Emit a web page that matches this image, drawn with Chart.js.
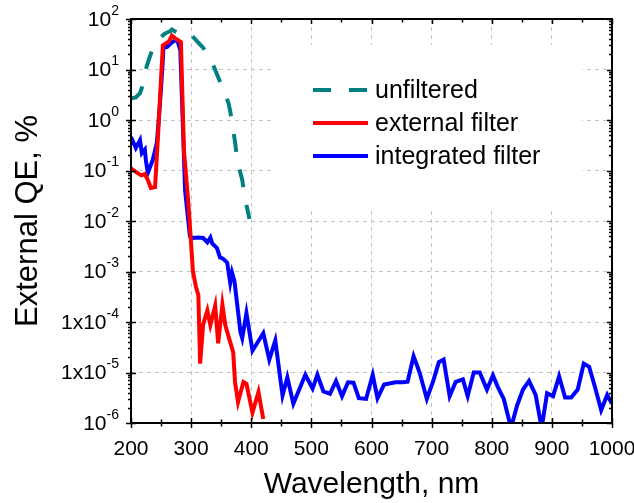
<!DOCTYPE html>
<html>
<head>
<meta charset="utf-8">
<script src="https://cdn.jsdelivr.net/npm/chart.js@4.4.0/dist/chart.umd.min.js"></script>
<style>
  body { margin: 0; background: #fff; }
</style>
</head>
<body>
<canvas id="qeChart" width="634" height="503"></canvas>
<script>
// wavelength (nm) and external QE (%)
var unfWl = [200,208,215,218,225,230,235,240,245,250,255,260,265,268,272,278,285,290,295,300,305,310,315,320,325,330,337,345,350,355,362,365,368,373,377,381,385,390,397];
var unfQE = [2.7,2.8,3.4,4.3,10.5,16,24,30,37,44,50,54,57,62,58,52,54,55,52,48,42,36,31,27,22,17,12,7,5,3.6,2.2,1.5,0.87,0.37,0.15,0.1,0.065,0.027,0.011];

var extWl = [200,208,217,223,228,233,240,245,249,253,258,263,268,273,278,283,288,295,298,303,308,312,315,320,327,332,340,345,352,357,365,370,373,378,387,392,402,412,420];
var extQE = [0.11,0.094,0.08,0.085,0.065,0.045,0.047,0.5,4,30,33,36,47,42,38,35,0.25,0.026,0.008,0.001,5e-4,3.4e-4,1.5e-5,9e-5,1.7e-4,8.7e-5,2.1e-4,3.8e-5,2.2e-4,8.5e-5,4e-5,2.5e-5,6.5e-6,2.6e-6,6.5e-6,6e-6,1.6e-6,4.1e-6,1.2e-6];

var intWl = [200,208,215,218,223,225,228,232,236,240,243,248,252,254,260,265,270,275,278,282,290,298,303,312,320,327,332,335,343,348,353,360,365,368,372,382,385,392,402,420,430,440,452,460,470,490,502,510,520,531,541,551,561,570,579,591,602,610,621,640,652,660,670,680,692,703,712,720,730,740,752,760,770,780,792,802,810,820,832,842,852,862,873,883,892,902,912,922,932,943,953,962,972,982,992,1000];
var intQE = [0.46,0.28,0.4,0.22,0.26,0.15,0.09,0.12,0.16,0.25,0.35,2,10,27,28,32,36,38,35,24,0.04,0.005,0.0046,0.0047,0.0046,0.0038,0.0047,0.0036,0.0029,0.0019,0.0018,0.0015,6e-4,9.5e-4,6.5e-4,6.4e-5,4.8e-5,1.5e-4,2.7e-5,6e-5,1.8e-5,4.3e-5,3.5e-6,8e-6,2.4e-6,9e-6,4.8e-6,9e-6,4.2e-6,3.8e-6,6.8e-6,3.4e-6,6.4e-6,6.3e-6,3.1e-6,3e-6,9e-6,3.1e-6,5.8e-6,6.4e-6,6.4e-6,6.6e-6,2.1e-5,1e-5,3e-6,7e-6,1.6e-5,1.8e-5,3.4e-6,6.5e-6,7.3e-6,3.4e-6,1e-5,1e-5,4.6e-6,8.8e-6,5.2e-6,3e-6,8e-7,2.2e-6,4.6e-6,6.8e-6,3.6e-6,8e-7,3.9e-6,3.4e-6,8.4e-6,3.2e-6,3.2e-6,4.6e-6,1.5e-5,1.3e-5,5e-6,1.8e-6,3.6e-6,2.4e-6];

var seriesNames = ["unfiltered", "external filter", "integrated filter"];
var yDecades = [-6, -5, -4, -3, -2, -1, 0, 1, 2];

var FONT = "'Liberation Sans', Arial, sans-serif";

function toPoints(xs, ys) {
  return xs.map(function (x, i) { return {x: x, y: ys[i]}; });
}
function isDecade(v) {
  var l = Math.log10(v);
  return Math.abs(l - Math.round(l)) < 1e-6;
}

// white legend box, frame with tick marks, superscript y labels
var decorations = {
  id: "decorations",
  beforeDatasetsDraw: function (chart) {
    var ctx = chart.ctx;
    ctx.save();
    ctx.fillStyle = "#fff";
    ctx.fillRect(275, 45, 307, 163);
    ctx.restore();
  },
  afterDatasetsDraw: function (chart) {
    var ctx = chart.ctx;
    ctx.save();
    chart.data.datasets.forEach(function (ds, i) {
      var y = 90 + i * 33;
      ctx.strokeStyle = ds.borderColor;
      ctx.lineWidth = ds.borderWidth;
      ctx.setLineDash(ds.borderDash || []);
      ctx.beginPath();
      ctx.moveTo(313, y);
      ctx.lineTo(368, y);
      ctx.stroke();
      ctx.setLineDash([]);
      ctx.fillStyle = "#000";
      ctx.font = "25px " + FONT;
      ctx.textBaseline = "middle";
      ctx.textAlign = "left";
      ctx.fillText(ds.label, 375, y + 1);
    });
    ctx.restore();
  },
  afterDraw: function (chart) {
    var ctx = chart.ctx, a = chart.chartArea;
    var xs = chart.scales.x, ys = chart.scales.y;
    ctx.save();
    ctx.strokeStyle = "#000";
    ctx.lineWidth = 1.5;
    ctx.beginPath();
    for (var v = 200; v <= 1000; v += 50) {
      var px = Math.round(xs.getPixelForValue(v)) + 0.5;
      var len = v % 100 === 0 ? 5 : 3.5;
      ctx.moveTo(px, a.bottom - len); ctx.lineTo(px, a.bottom + len);
      ctx.moveTo(px, a.top); ctx.lineTo(px, a.top + len);
    }
    for (var d = -6; d <= 2; d++) {
      for (var m = 1; m <= 9; m++) {
        if (d === 2 && m > 1) break;
        var py = Math.round(ys.getPixelForValue(m * Math.pow(10, d))) + 0.5;
        var l2 = m === 1 ? 5 : 3;
        ctx.moveTo(a.left - l2, py); ctx.lineTo(a.left + (m === 1 ? l2 : 0), py);
        ctx.moveTo(a.right, py); ctx.lineTo(a.right - l2, py);
      }
    }
    ctx.stroke();
    ctx.lineWidth = 2;
    ctx.strokeRect(a.left, a.top, a.right - a.left, a.bottom - a.top);

    ctx.fillStyle = "#000";
    ctx.textBaseline = "middle";
    yDecades.forEach(function (d) {
      var py = ys.getPixelForValue(Math.pow(10, d));
      var base = (d === -4 || d === -5) ? "1x10" : "10";
      var exp = String(d);
      ctx.font = "14px " + FONT;
      var ew = ctx.measureText(exp).width;
      ctx.textAlign = "left";
      ctx.fillText(exp, 119 - ew, py - 8);
      ctx.font = "21px " + FONT;
      ctx.textAlign = "right";
      ctx.fillText(base, 119 - ew, py + 1);
    });
    ctx.restore();
  }
};

new Chart("qeChart", {
  type: "line",
  data: {
    datasets: [{
      label: seriesNames[0],
      data: toPoints(unfWl, unfQE),
      borderColor: "#008080",
      borderWidth: 4,
      borderDash: [18, 18]
    }, {
      label: seriesNames[1],
      data: toPoints(extWl, extQE),
      borderColor: "#ff0000",
      borderWidth: 4
    }, {
      label: seriesNames[2],
      data: toPoints(intWl, intQE),
      borderColor: "#0000ff",
      borderWidth: 4
    }]
  },
  options: {
    responsive: false,
    animation: false,
    elements: { point: { radius: 0 }, line: { tension: 0 } },
    layout: { padding: { top: 19, right: 22, left: 0, bottom: 0 } },
    plugins: { legend: { display: false }, tooltip: { enabled: false } },
    scales: {
      x: {
        type: "linear",
        min: 200,
        max: 1000,
        ticks: {
          stepSize: 100, autoSkip: false, maxRotation: 0, padding: 14, color: "#000",
          font: { family: FONT, size: 21 },
          callback: function (v) { return String(v); }
        },
        grid: {
          drawTicks: false,
          color: function (c) { return (c.tick.value === 200 || c.tick.value === 1000) ? "rgba(0,0,0,0)" : "#c4c4c4"; }
        },
        border: { display: false, dash: [4, 4] },
        title: { display: true, text: "Wavelength, nm", color: "#000", padding: 0, font: { family: FONT, size: 30 } },
        afterFit: function (s) { s.height = 80; s.paddingLeft = 0; s.paddingRight = 0; }
      },
      y: {
        type: "logarithmic",
        min: 1e-6,
        max: 100,
        ticks: { display: false },
        grid: {
          drawTicks: false,
          color: function (c) {
            var v = c.tick.value;
            return (isDecade(v) && v > 1.5e-6 && v < 90) ? "#c4c4c4" : "rgba(0,0,0,0)";
          }
        },
        border: { display: false, dash: [4, 4] },
        title: { display: true, text: "External QE, %", color: "#000", padding: { top: 10 }, font: { family: FONT, size: 31 } },
        afterFit: function (s) { s.width = 131; }
      }
    }
  },
  plugins: [decorations]
});
</script>
</body>
</html>
